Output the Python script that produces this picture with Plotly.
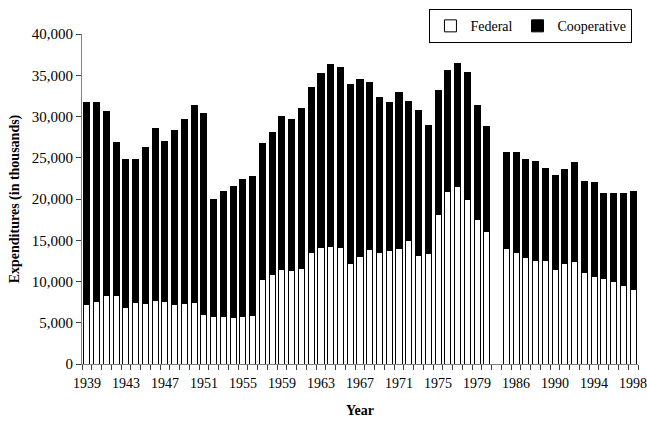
import plotly.graph_objects as go

# Years (1981-1984 missing -> gap)
years_early = [1939, 1940, 1941, 1942, 1943, 1944, 1945, 1946, 1947, 1948,
               1949, 1950, 1951, 1952, 1953, 1954, 1955, 1956, 1957, 1958,
               1959, 1960, 1961, 1962, 1963, 1964, 1965, 1966, 1967, 1968,
               1969, 1970, 1971, 1972, 1973, 1974, 1975, 1976, 1977, 1978,
               1979, 1980]
years_late = [1985, 1986, 1987, 1988, 1989, 1990, 1991, 1992, 1993, 1994,
              1995, 1996, 1997, 1998]

total_early = [31680, 31680, 30610, 26830, 24820, 24820, 26200, 28570, 26910, 28250,
               29630, 31360, 30420, 19980, 20880, 21470, 22420, 22690, 26670, 28050,
               30060, 29630, 31000, 33490, 35220, 36250, 35900, 33840, 34430, 34160,
               32270, 31680, 32900, 31760, 30770, 28920, 33180, 35540, 36440, 35300,
               31290, 28760]
federal_early = [7170, 7600, 8310, 8310, 6860, 7450, 7370, 7680, 7530, 7210,
                 7290, 7450, 5990, 5750, 5790, 5670, 5710, 5830, 10200, 10840,
                 11500, 11310, 11620, 13470, 14100, 14300, 14180, 12210, 13040, 13870,
                 13470, 13750, 13950, 14930, 13200, 13360, 18120, 20960, 21480, 19900,
                 17530, 16080]
total_late = [25690, 25690, 24780, 24550, 23720, 22810, 23600, 24390, 22100, 21950,
              20690, 20690, 20690, 20880]
federal_late = [13950, 13470, 12920, 12530, 12530, 11470, 12170, 12370, 11110, 10640,
                10400, 10050, 9570, 8980]

label_years = [1939, 1943, 1947, 1951, 1955, 1959, 1963, 1967, 1971, 1975, 1979,
               1986, 1990, 1994, 1998]

# category slots: early years, one empty slot, late years
slots = [str(y) for y in years_early] + [""] + [str(y) for y in years_late]
pos = {s: i for i, s in enumerate(slots)}

years = years_early + years_late
federal = federal_early + federal_late
total = total_early + total_late
cooperative = [t - f for t, f in zip(total, federal)]
xpos = [pos[str(y)] for y in years]

FONT = "Liberation Serif, Times New Roman, serif"

fig = go.Figure()
fig.add_trace(go.Bar(
    x=xpos, y=federal, name="Federal",
    marker=dict(color="white", line=dict(color="black", width=1)),
    width=0.62,
))
fig.add_trace(go.Bar(
    x=xpos, y=cooperative, name="Cooperative",
    marker=dict(color="black", line=dict(color="black", width=1)),
    width=0.62,
))

fig.update_layout(
    width=647, height=421,
    barmode="stack",
    plot_bgcolor="white", paper_bgcolor="white",
    margin=dict(l=82, r=9, t=25, b=57),
    font=dict(family=FONT, size=14, color="black"),
    showlegend=True,
    legend=dict(
        orientation="h", traceorder="normal",
        x=0.99, xanchor="right", y=1.075, yanchor="top",
        bordercolor="black", borderwidth=1, bgcolor="white",
        font=dict(family=FONT, size=14), itemwidth=30,
        tracegroupgap=0,
    ),
    xaxis=dict(
        range=[-0.5, len(slots) - 0.5],
        tickmode="array",
        tickvals=[pos[str(y)] for y in label_years],
        ticktext=[str(y) for y in label_years],
        ticks="", showgrid=False, zeroline=False,
        showline=True, linecolor="#808080", linewidth=1,
        minor=dict(tickmode="linear", tick0=-0.5, dtick=1, ticks="outside",
                   ticklen=5, tickcolor="#404040", showgrid=False),
        tickfont=dict(family=FONT, size=14),
        ticklabelstandoff=6,
        ticklabeloverflow="allow",
        automargin=False,
        title=dict(text="<b>Year</b>", font=dict(family=FONT, size=14), standoff=15),
    ),
    yaxis=dict(
        range=[0, 40000], dtick=5000, tickformat=",",
        ticks="outside", ticklen=5, tickcolor="#404040",
        showgrid=False, zeroline=False,
        showline=True, linecolor="#808080", linewidth=1,
        tickfont=dict(family=FONT, size=15),
        automargin=False,
        title=dict(text="<b>Expenditures (in thousands)</b>",
                   font=dict(family=FONT, size=14), standoff=8),
    ),
)

fig.write_html("out.html", config={"displayModeBar": False},
               post_script="document.body.style.margin='0';")
